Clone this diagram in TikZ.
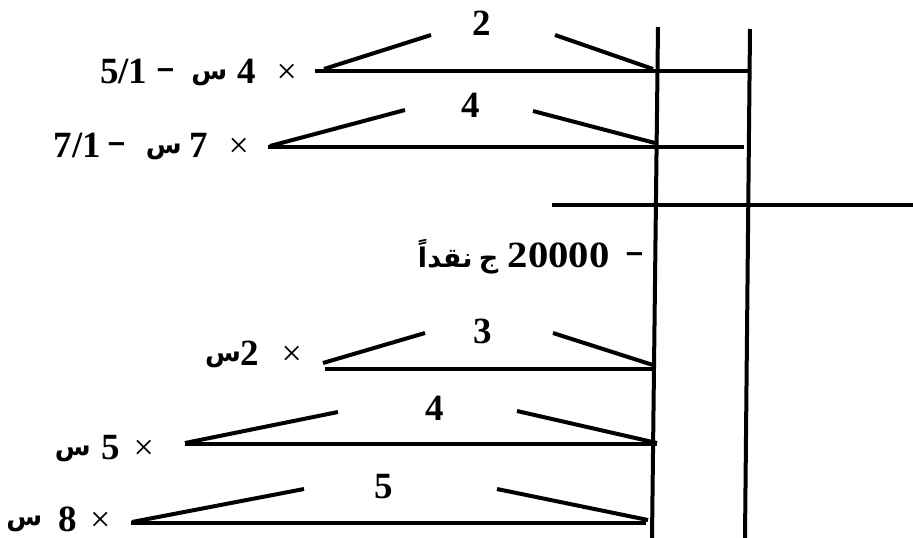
\documentclass[tikz,border=0pt]{standalone}
\usepackage{fontspec}
\usepackage{graphicx}
\setmainfont{Liberation Serif}
\newfontfamily\arfont[Script=Arabic]{DejaVu Sans}
\TeXXeTstate=1
\newcommand{\arw}[1]{\raisebox{4pt}{\arfont\bfseries\fontsize{26}{30}\selectfont\beginR #1\endR}}
\newcommand{\arh}[1]{\raisebox{6pt}{\arfont\bfseries\fontsize{26}{30}\selectfont\beginR #1\endR}}
\newcommand{\arm}[1]{{\arfont\bfseries\fontsize{27}{30}\selectfont\beginR #1\endR}}
\newcommand{\tms}{{\mdseries\fontsize{36}{40}\selectfont ×}}
\newcommand{\dsh}{\raisebox{3pt}{\scalebox{0.8}[1.2]{–}}}
\newcommand{\bx}[2]{\makebox[#1pt][c]{#2}}
\newcommand{\gp}[1]{\hspace{#1pt}}
\begin{document}
\begin{tikzpicture}[x=1pt,y=-1pt,
  rule/.style={line width=4pt, black},
  lbl/.style={inner sep=0pt, anchor=base west, font=\fontsize{37}{42}\selectfont\bfseries},
  digit/.style={inner sep=0pt, font=\fontsize{37}{42}\selectfont\bfseries}]
\useasboundingbox (0,0) rectangle (913,538);

% main T-account lines
\coordinate (vLt) at (658,27);  \coordinate (vLb) at (652,538);
\coordinate (vRt) at (750,29);  \coordinate (vRb) at (745,538);
\coordinate (hml) at (552,205); \coordinate (hmr) at (913,205);
\draw[rule] (vLt) -- (vLb);
\draw[rule] (vRt) -- (vRb);
\draw[rule] (hml) -- (hmr);

% row 1
\coordinate (a1) at (315,71); \coordinate (a2) at (750,71);
\coordinate (a3) at (324,69); \coordinate (a4) at (431,35);
\coordinate (a5) at (555,35); \coordinate (a6) at (653,69);
\draw[rule] (a1) -- (a2);
\draw[rule] (a3) -- (a4);
\draw[rule] (a5) -- (a6);
\node[digit] (n1) at (482,23) {2};
\node[lbl] (t1) at (100,83) {\bx{47}{5/1}\gp{12}\bx{13}{\dsh}\gp{24}\bx{26}{\arw{س}}\gp{15}\bx{19}{4}\gp{24}\bx{13}{\tms}};

% row 2
\coordinate (b1) at (268,147); \coordinate (b2) at (744,147);
\coordinate (b3) at (270,146); \coordinate (b4) at (405,110);
\coordinate (b5) at (533,111); \coordinate (b6) at (655,143);
\draw[rule] (b1) -- (b2);
\draw[rule] (b3) -- (b4);
\draw[rule] (b5) -- (b6);
\node[digit] (n2) at (471,105) {4};
\node[lbl] (t2) at (55,157) {\bx{44}{7/1}\gp{11}\bx{14}{\dsh}\gp{27}\bx{25}{\arw{س}}\gp{15}\bx{16}{7}\gp{24}\bx{15}{\tms}};

% middle text
\node[lbl] (t3) at (423,267) {\bx{44}{\arm{نقداً}}\gp{13}\bx{17}{\arm{ج}}\gp{10}\bx{103}{\scalebox{1.1}[1]{20000}}\gp{17}\bx{16}{\dsh}};

% row 3
\coordinate (c1) at (325,369); \coordinate (c2) at (653,369);
\coordinate (c3) at (323,363); \coordinate (c4) at (425,333);
\coordinate (c5) at (553,333); \coordinate (c6) at (653,365);
\draw[rule] (c1) -- (c2);
\draw[rule] (c3) -- (c4);
\draw[rule] (c5) -- (c6);
\node[digit] (n3) at (483,331) {3};
\node[lbl] (t4) at (214,365) {\bx{36}{\arw{س}2}\gp{35}\bx{13}{\tms}};

% row 4
\coordinate (d1) at (185,444); \coordinate (d2) at (657,444);
\coordinate (d3) at (185,443); \coordinate (d4) at (338,412);
\coordinate (d5) at (517,411); \coordinate (d6) at (657,443);
\draw[rule] (d1) -- (d2);
\draw[rule] (d3) -- (d4);
\draw[rule] (d5) -- (d6);
\node[digit] (n4) at (435,408) {4};
\node[lbl] (t5) at (60,459) {\bx{25}{\arw{س}}\gp{18}\bx{15}{5}\gp{18}\bx{15}{\tms}};

% row 5
\coordinate (e1) at (131,523); \coordinate (e2) at (646,523);
\coordinate (e3) at (132,522); \coordinate (e4) at (304,489);
\coordinate (e5) at (497,489); \coordinate (e6) at (648,520);
\draw[rule] (e1) -- (e2);
\draw[rule] (e3) -- (e4);
\draw[rule] (e5) -- (e6);
\node[digit] (n5) at (384,487) {5};
\node[lbl] (t6) at (13,531) {\bx{22}{\arh{س}}\gp{23}\bx{19}{8}\gp{15}\bx{16}{\tms}};
\end{tikzpicture}
\end{document}
